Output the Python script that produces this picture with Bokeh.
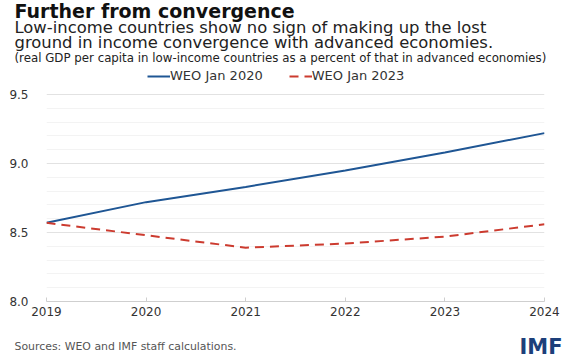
from bokeh.plotting import figure
from bokeh.layouts import column
from bokeh.models import (Range1d, Label, Legend, LegendItem, FixedTicker,
                          ColumnDataSource, NumeralTickFormatter)
from bokeh.embed import file_html
from bokeh.resources import INLINE

years = [2019, 2020, 2021, 2022, 2023, 2024]
weo_jan_2020 = [8.57, 8.72, 8.83, 8.95, 9.08, 9.22]
weo_jan_2023 = [8.57, 8.48, 8.39, 8.42, 8.47, 8.56]
y_ticks = [8.0, 8.5, 9.0, 9.5]
y_minor_ticks = [8.1, 8.2, 8.3, 8.4, 8.6, 8.7, 8.8, 8.9, 9.1, 9.2, 9.3, 9.4]

title = "Further from convergence"
subtitle1 = "Low-income countries show no sign of making up the lost"
subtitle2 = "ground in income convergence with advanced economies."
note = "(real GDP per capita in low-income countries as a percent of that in advanced economies)"
source = "Sources: WEO and IMF staff calculations."

W = 574
HEAD_H, MAIN_H, FOOT_H = 66, 264, 30
FL, FR = 46, 544                 # frame left/right (px)
FB = 301 - HEAD_H                # frame bottom inside main figure (px from its top)
PX_PER_UNIT = 207 / 1.5          # 8.0 -> 9.5 spans 207 px
FONT = "DejaVu Sans"


def blank(h):
    f = figure(width=W, height=h, output_backend="svg", toolbar_location=None,
               x_range=Range1d(0, W), y_range=Range1d(0, h),
               x_axis_location=None, y_axis_location=None,
               min_border_left=0, min_border_right=0, min_border_top=0,
               min_border_bottom=0, frame_align=False)
    f.outline_line_color = None
    f.grid.visible = False
    return f


def lab(f, text, x, y_from_bottom, size, color="#222222", bold=False,
        align="left"):
    f.add_layout(Label(x=x, y=y_from_bottom, x_units="screen",
                       y_units="screen", text=text, text_font=FONT,
                       text_font_size=size, text_color=color,
                       text_align=align, text_baseline="alphabetic",
                       text_font_style="bold" if bold else "normal"))


# ---- header ----
head = blank(HEAD_H)
lab(head, title, 14, HEAD_H - 10.5, "19px", "#111111", bold=True)
lab(head, subtitle1, 14, HEAD_H - 27, "16.4px", "#222222")
lab(head, subtitle2, 14, HEAD_H - 42, "16.4px", "#222222")
lab(head, note, 14, HEAD_H - 57.5, "11.8px", "#222222")

# ---- main chart ----
y_top = 8.0 + FB / PX_PER_UNIT
p = figure(width=W, height=MAIN_H, output_backend="svg", toolbar_location=None,
           x_range=Range1d(2019, 2024), y_range=Range1d(8.0, y_top),
           min_border_left=FL, min_border_right=W - FR, min_border_top=0,
           min_border_bottom=MAIN_H - FB, frame_align=False)
p.outline_line_color = None

src = ColumnDataSource(dict(x=years, a=weo_jan_2020, b=weo_jan_2023))
r1 = p.line("x", "a", source=src, line_color="#1f5694", line_width=2)
r2 = p.line("x", "b", source=src, line_color="#cc3b2f", line_width=2,
            line_dash="9 6")

p.xaxis.ticker = FixedTicker(ticks=years)
p.xaxis.axis_line_color = "#cfcfcf"
p.xaxis.major_tick_line_color = "#cfcfcf"
p.xaxis.major_tick_in = 4
p.xaxis.major_tick_out = 0
p.xaxis.minor_tick_line_color = None
p.xaxis.major_label_text_font = FONT
p.xaxis.major_label_text_font_size = "12px"
p.xaxis.major_label_text_color = "#333333"
p.xaxis.major_label_standoff = 5

p.yaxis.ticker = FixedTicker(ticks=y_ticks, minor_ticks=y_minor_ticks)
p.yaxis.formatter = NumeralTickFormatter(format="0.0")
p.yaxis.axis_line_color = None
p.yaxis.major_tick_line_color = None
p.yaxis.minor_tick_line_color = None
p.yaxis.major_label_text_font = FONT
p.yaxis.major_label_text_font_size = "12px"
p.yaxis.major_label_text_color = "#333333"
p.yaxis.major_label_standoff = 12

p.xgrid.grid_line_color = None
p.ygrid.grid_line_color = "#e2e2e2"
p.ygrid.minor_grid_line_color = "#f3f3f3"

legend = Legend(items=[LegendItem(label="WEO Jan 2020", renderers=[r1]),
                       LegendItem(label="WEO Jan 2023", renderers=[r2])],
                orientation="horizontal", location=(147 - FL, FB - (83 - HEAD_H)),
                label_text_font=FONT, label_text_font_size="13px",
                label_text_color="#333333", glyph_width=23, glyph_height=14,
                label_height=14, label_standoff=0, spacing=26, padding=0,
                margin=0, border_line_color=None, background_fill_alpha=0)
p.add_layout(legend, "center")

# ---- footer ----
foot = blank(FOOT_H)
lab(foot, source, 14, 360 - 346, "10.9px", "#555555")
lab(foot, "IMF", 562, 360 - 346, "21px", "#1d3f7a", bold=True, align="right")

layout = column(head, p, foot, spacing=0)
open("out.html", "w").write(file_html(layout, INLINE))
